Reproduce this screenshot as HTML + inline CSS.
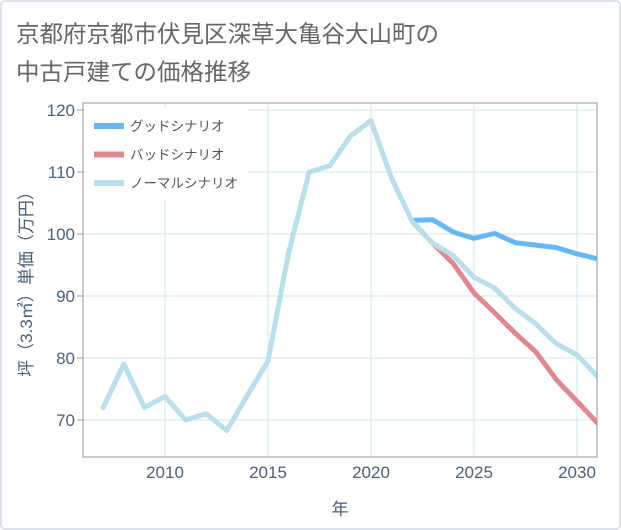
<!DOCTYPE html>
<html><head><meta charset="utf-8"><style>
body{margin:0;background:#fff;}
svg{display:block;font-family:"Liberation Sans","Noto Sans CJK JP",sans-serif;}
</style></head><body>
<svg id="c" width="621" height="530">
<rect x="1" y="1" width="619" height="528" rx="4" fill="#fff" stroke="#dde3ea" stroke-width="2"/>
<text x="16" y="42" font-size="23.5" fill="#666">京都府京都市伏見区深草大亀谷大山町の</text>
<text x="16" y="80" font-size="23.5" fill="#666">中古戸建ての価格推移</text>
<g id="grid"></g>
<g id="series"></g>
<g id="axes"></g>
<g id="legend"></g>
</svg>
<script>
const years=[2007,2008,2009,2010,2011,2012,2013,2014,2015,2016,2017,2018,2019,2020,2021,2022,2023,2024,2025,2026,2027,2028,2029,2030,2031];
const normalValues=[72,79,72,73.8,70,71,68.3,74,79.5,97,110,111,115.8,118.3,109,102,98.5,96.5,93,91.3,88,85.5,82.3,80.5,77];
const goodYears=[2022,2023,2024,2025,2026,2027,2028,2029,2030,2031];
const goodValues=[102.2,102.3,100.3,99.3,100.1,98.6,98.2,97.8,96.8,96];
const badValues=[102,98.5,95.2,90.5,87.3,84,81,76.5,73,69.5];
const xTicks=[2010,2015,2020,2025,2030];
const yTicks=[70,80,90,100,110,120];
const L=83,R=597,T=103,B=457;
const x=v=>165+(v-2010)*20.6;
const y=v=>420-(v-70)*6.2;
const NS="http://www.w3.org/2000/svg";
function mk(tag,parent,attrs){const e=document.createElementNS(NS,tag);for(const k in attrs)e.setAttribute(k,attrs[k]);document.getElementById(parent).appendChild(e);return e;}
for(const t of xTicks){const l=mk('line','grid',{x1:x(t),x2:x(t),y1:T,y2:B,stroke:'#d3e4ee','stroke-width':1});


const tx=mk('text','axes',{x:x(t),y:478,'font-size':17,fill:'#4a6178','text-anchor':'middle'});tx.textContent=t;

}
for(const t of yTicks){const l=mk('line','grid',{x1:L,x2:R,y1:y(t),y2:y(t),stroke:'#d3e4ee','stroke-width':1});


const tk=mk('line','axes',{x1:L-6,x2:L,y1:y(t),y2:y(t),stroke:'#999'});


const tx=mk('text','axes',{x:L-8,y:y(t)+6,'font-size':17,fill:'#4a6178','text-anchor':'end'});tx.textContent=t;

}
function line(xs,vs,color,name){const p=mk('polyline','series',{points:xs.map((v,i)=>x(v)+','+y(vs[i])).join(' '),fill:'none',stroke:color,'stroke-width':5,'stroke-linejoin':'round','stroke-linecap':'round'});

}
mk('clipPath','series',{id:'clp'});
const cr=mk('rect','series',{x:L,y:T,width:R-L,height:B-T});document.getElementById('clp').appendChild(cr);
document.getElementById('series').setAttribute('clip-path','url(#clp)');
line(goodYears,badValues,'#e0888f','bad-scenario-line');
line(goodYears,goodValues,'#64b9f4','good-scenario-line');
line(years,normalValues,'#b9dfea','normal-scenario-line');
const fr=mk('path','axes',{d:`M${L},${T}H${R}V${B}H${L}Z`,fill:'none',stroke:'#999','stroke-width':1});


const yt=mk('text','axes',{x:0,y:0,'font-size':17,fill:'#4a6178','text-anchor':'middle',transform:'translate(32,280) rotate(-90)'});yt.textContent='坪（3.3㎡）単価（万円）';


const xt=mk('text','axes',{x:340,y:515,'font-size':17,fill:'#4a6178','text-anchor':'middle'});xt.textContent='年';


const lb=mk('rect','legend',{x:86,y:108,width:162,height:92,fill:'#fff'});


const leg=[['グッドシナリオ','#64b9f4'],['バッドシナリオ','#e0888f'],['ノーマルシナリオ','#b9dfea']];
leg.forEach((d,i)=>{const yy=126+i*28.5;
const s=mk('rect','legend',{x:94,y:yy-3,width:30,height:6,fill:d[1]});


const t=mk('text','legend',{x:130,y:yy+5,'font-size':13.5,fill:'#555'});t.textContent=d[0];

});
</script>
</body></html>
